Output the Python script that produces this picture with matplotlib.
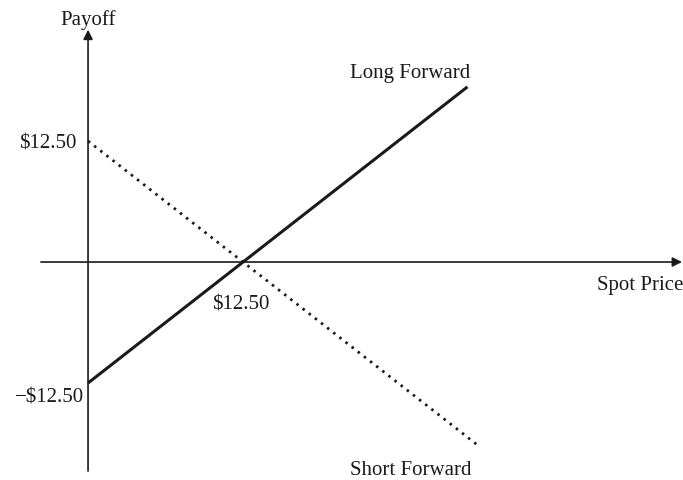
import matplotlib
matplotlib.use("Agg")
import matplotlib.pyplot as plt

# Data (payoff diagram, strike = $12.50)
strike = 12.5
long_x = [0.0, 30.6]
long_y = [x - strike for x in long_x]
short_x = [0.0, 31.6]
short_y = [strike - x for x in short_x]

plt.rcParams['font.family'] = ['Liberation Serif', 'DejaVu Serif']

fig = plt.figure(figsize=(6.83, 4.8), dpi=100)
ax = fig.add_axes([0, 0, 1, 1])
ax.set_xlim(-7.1, 47.98)
ax.set_ylim(-22.52, 27.07)
ax.axis('off')

col = '#1a1a1a'
# axes with arrows
ax.annotate('', xy=(0, 24.0), xytext=(0, -21.6),
            arrowprops=dict(arrowstyle='-|>', color=col, lw=1.2, mutation_scale=14,
                            shrinkA=0, shrinkB=0))
ax.annotate('', xy=(47.9, 0), xytext=(-3.8, 0),
            arrowprops=dict(arrowstyle='-|>', color=col, lw=1.2, mutation_scale=14,
                            shrinkA=0, shrinkB=0))

ax.plot(long_x, long_y, color=col, lw=2.2, solid_capstyle='butt')
ax.plot(short_x, short_y, color=col, lw=2.0, linestyle=(0, (0.9, 1.9)))

fs = 15
ax.text(0, 25.0, 'Payoff', ha='center', va='center', fontsize=fs, color=col)
ax.text(-0.9, 12.2, '$12.50', ha='right', va='center', fontsize=fs, color=col)
ax.text(-0.3, -14.0, '\u2212$12.50', ha='right', va='center', fontsize=fs, color=col)
ax.text(12.3, -4.4, '$12.50', ha='center', va='center', fontsize=fs, color=col)
ax.text(21.1, 19.5, 'Long Forward', ha='left', va='center', fontsize=fs, color=col)
ax.text(41.05, -2.4, 'Spot Price', ha='left', va='center', fontsize=fs, color=col)
ax.text(21.1, -21.5, 'Short Forward', ha='left', va='center', fontsize=fs, color=col)

fig.savefig('out.png', dpi=100)
